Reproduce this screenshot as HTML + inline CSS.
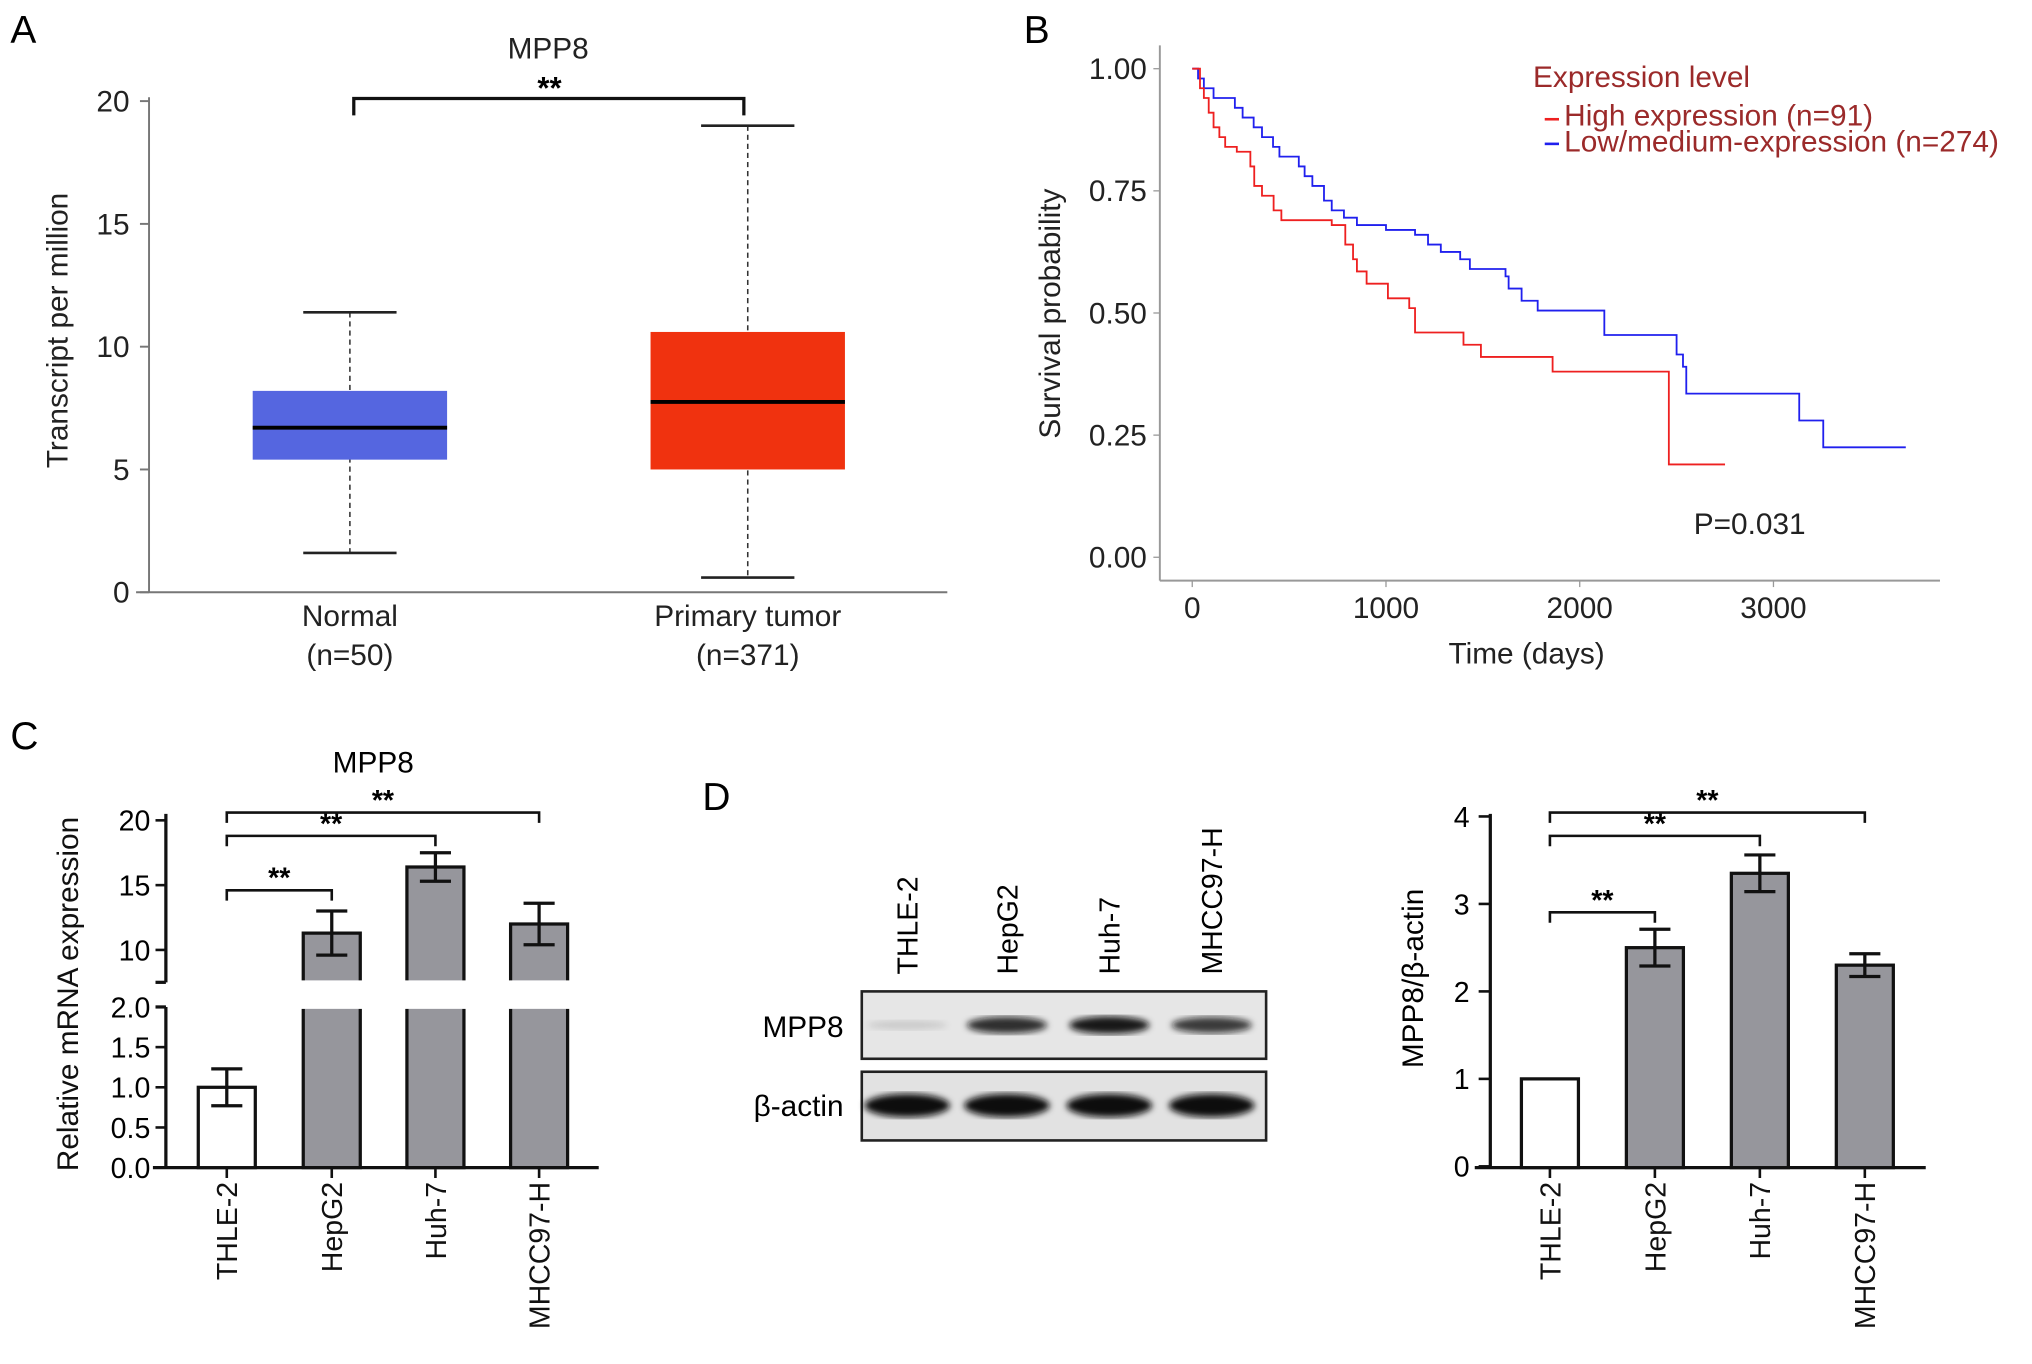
<!DOCTYPE html>
<html><head><meta charset="utf-8">
<style>
html,body{margin:0;padding:0;background:#fff;}
svg{display:block;}
text{font-family:"Liberation Sans",sans-serif;}
.n{font-family:"Liberation Sans Narrow","Liberation Sans",sans-serif;}
</style></head>
<body>
<svg id="fig" width="2032" height="1364" viewBox="0 0 1568 1052.5" xmlns="http://www.w3.org/2000/svg">
<rect width="1568" height="1052.5" fill="#fff"/>
<text x="8" y="33" font-size="30">A</text>
<text x="790" y="33" font-size="30">B</text>
<text x="8" y="578" font-size="30">C</text>
<text x="542" y="625" font-size="30">D</text>
<g id="A"></g>
<g id="B"></g>
<g id="C"></g>
<g id="D"></g>
<g id="E"></g>
</svg>
<script>
// ---- Panel A data
const boxCats = ["Normal","Primary tumor"];
const boxN = ["(n=50)","(n=371)"];
const boxMin = [1.6, 0.6];
const boxQ1 = [5.4, 5.0];
const boxMed = [6.7, 7.75];
const boxQ3 = [8.2, 10.6];
const boxMax = [11.4, 19.0];
const boxColors = ["#5566e0","#f0320f"];
const boxTicks = [0,5,10,15,20];
// ---- Panel B data
const highT = [0,40,60,85,110,140,170,230,300,320,360,420,460,720,790,830,850,900,1010,1120,1150,1400,1490,1860,2460];
const highS = [1,0.96,0.94,0.91,0.88,0.86,0.84,0.83,0.80,0.76,0.74,0.71,0.69,0.68,0.64,0.61,0.585,0.56,0.53,0.51,0.46,0.435,0.41,0.38,0.19];
const highEnd = 2750;
const lowT = [0,30,60,110,220,260,317,360,417,450,550,580,620,680,720,783,850,1000,1150,1217,1283,1383,1433,1617,1633,1700,1783,2127,2500,2533,2550,3133,3257];
const lowS = [1,0.98,0.96,0.94,0.92,0.90,0.88,0.86,0.84,0.82,0.80,0.78,0.76,0.73,0.71,0.695,0.68,0.67,0.66,0.64,0.625,0.61,0.59,0.575,0.55,0.525,0.505,0.455,0.415,0.39,0.335,0.28,0.225];
const lowEnd = 3683;
const survYTicks = [0,0.25,0.5,0.75,1.0];
const survYLabels = ["0.00","0.25","0.50","0.75","1.00"];
const survXTicks = [0,1000,2000,3000];
// ---- Panel C data
const cellCats = ["THLE-2","HepG2","Huh-7","MHCC97-H"];
const mrnaVals = [1.0, 11.3, 16.4, 12.0];
const mrnaErr = [0.23, 1.7, 1.1, 1.6];
const mrnaLowTicks = [0.0,0.5,1.0,1.5,2.0];
const mrnaHighTicks = [10,15,20];
// ---- Panel D data
const protVals = [1.0, 2.5, 3.35, 2.3];
const protErr = [0, 0.21, 0.21, 0.13];
const protTicks = [0,1,2,3,4];
const mppBand = [0.12, 0.85, 0.95, 0.8];
const actinBand = [1,1,1,1];

const NS="http://www.w3.org/2000/svg";
function mk(parent,tag,attrs,txt){const e=document.createElementNS(NS,tag);for(const k in attrs)e.setAttribute(k,attrs[k]);if(txt!==undefined)e.textContent=txt;parent.appendChild(e);return e;}

// ===== Panel A
(function(){
const g=document.getElementById('A');
const y=v=>457-(v/20)*379;
const xs=[270,577], hw=75;
let e=mk(g,'line',{x1:115,y1:y(20)-3,x2:115,y2:457,stroke:'#777','stroke-width':1.5});

e=mk(g,'line',{x1:105,y1:457,x2:731,y2:457,stroke:'#777','stroke-width':1.5});

boxTicks.forEach(t=>{mk(g,'line',{x1:108,y1:y(t),x2:115,y2:y(t),stroke:'#777','stroke-width':1.5});
 e=mk(g,'text',{x:100,y:y(t)+8,'font-size':23,'text-anchor':'end',class:'n',fill:'#222'},String(t));
 });
e=mk(g,'text',{x:0,y:0,'font-size':23,'text-anchor':'middle',transform:'translate(52,255) rotate(-90)',fill:'#222'},'Transcript per million');

boxCats.forEach((c,i)=>{const x=xs[i];
 mk(g,'line',{x1:x,y1:y(boxMax[i]),x2:x,y2:y(boxMin[i]),stroke:'#333','stroke-width':1.2,'stroke-dasharray':'4,3'});
 mk(g,'line',{x1:x-36,y1:y(boxMax[i]),x2:x+36,y2:y(boxMax[i]),stroke:'#222','stroke-width':2});
 mk(g,'line',{x1:x-36,y1:y(boxMin[i]),x2:x+36,y2:y(boxMin[i]),stroke:'#222','stroke-width':2});
 e=mk(g,'rect',{x:x-hw,y:y(boxQ3[i]),width:hw*2,height:y(boxQ1[i])-y(boxQ3[i]),fill:boxColors[i]});
 
 mk(g,'line',{x1:x-hw,y1:y(boxMed[i]),x2:x+hw,y2:y(boxMed[i]),stroke:'#000','stroke-width':3});
 e=mk(g,'text',{x:x,y:483,'font-size':23,'text-anchor':'middle',class:'n',fill:'#222'},c);
 
 mk(g,'text',{x:x,y:513,'font-size':23,'text-anchor':'middle',class:'n',fill:'#222'},boxN[i]);
});
mk(g,'path',{d:'M273,89 V76 H574 V89',fill:'none',stroke:'#111','stroke-width':2.5});
mk(g,'text',{x:424,y:76,'font-size':24,'font-weight':'bold','text-anchor':'middle'},'**');
e=mk(g,'text',{x:423,y:45,'font-size':23,'text-anchor':'middle',class:'n',fill:'#222'},'MPP8');

})();

// ===== Panel B
(function(){
const g=document.getElementById('B');
const x=t=>920+t/1000*149.5, y=s=>430-s*377;
let e=mk(g,'line',{x1:895,y1:35,x2:895,y2:448,stroke:'#999','stroke-width':1.5});

e=mk(g,'line',{x1:895,y1:448,x2:1497,y2:448,stroke:'#999','stroke-width':1.5});

survYTicks.forEach((t,i)=>{mk(g,'line',{x1:890,y1:y(t),x2:895,y2:y(t),stroke:'#999'});
 e=mk(g,'text',{x:885,y:y(t)+8,'font-size':23,'text-anchor':'end',class:'n',fill:'#222'},survYLabels[i]);
 });
survXTicks.forEach(t=>{mk(g,'line',{x1:x(t),y1:448,x2:x(t),y2:453,stroke:'#999'});
 e=mk(g,'text',{x:x(t),y:477,'font-size':23,'text-anchor':'middle',class:'n',fill:'#222'},String(t));
 });
e=mk(g,'text',{x:0,y:0,'font-size':23,'text-anchor':'middle',transform:'translate(818,242) rotate(-90)',fill:'#222'},'Survival probability');

e=mk(g,'text',{x:1178,y:512,'font-size':23,'text-anchor':'middle',class:'n',fill:'#222'},'Time (days)');

function curve(T,S,end,col,name){let d='M'+x(T[0])+','+y(S[0]);
 for(let i=1;i<T.length;i++){d+=' H'+x(T[i])+' V'+y(S[i]);} d+=' H'+x(end);
 const p=mk(g,'path',{d:d,fill:'none',stroke:col,'stroke-width':1.4});
 }
curve(lowT,lowS,lowEnd,'#2020ee','low-expression-curve');
curve(highT,highS,highEnd,'#ee2020','high-expression-curve');
e=mk(g,'text',{x:1183,y:67,'font-size':23,fill:'#9b2a2a',class:'n'},'Expression level');

mk(g,'line',{x1:1192,y1:92,x2:1203,y2:92,stroke:'#ee2020','stroke-width':2});
e=mk(g,'text',{x:1207,y:97,'font-size':23,fill:'#9b2a2a',class:'n'},'High expression (n=91)');

mk(g,'line',{x1:1192,y1:111,x2:1203,y2:111,stroke:'#2020ee','stroke-width':2});
e=mk(g,'text',{x:1207,y:117,'font-size':23,fill:'#9b2a2a',class:'n'},'Low/medium-expression (n=274)');

e=mk(g,'text',{x:1307,y:412,'font-size':23,class:'n',fill:'#222'},'P=0.031');

})();

// helper for bar charts
function catLabels(g,xs,yTop,prefix){cellCats.forEach((c,i)=>{
 const e=mk(g,'text',{x:0,y:0,'font-size':22,'text-anchor':'end',transform:'translate('+(xs[i]+8)+','+yTop+') rotate(-90)',fill:'#111'},c);
 });}
function bracket(g,x1,x2,yb,txt){mk(g,'path',{d:'M'+x1+','+(yb+8)+' V'+yb+' H'+x2+' V'+(yb+8),fill:'none',stroke:'#111','stroke-width':2});
 mk(g,'text',{x:(x1+x2)/2,y:yb-2,'font-size':22,'font-weight':'bold','text-anchor':'middle'},txt);}

// ===== Panel C
(function(){
const g=document.getElementById('C');
const xs=[175,256,336,416], bw=44;
const yl=v=>901-v*62, yh=v=>733-(v-10)*10;
const brk=758, brkL=777;
const yv=v=>v<=2?yl(v):yh(v);
let e=mk(g,'path',{d:'M128,628 V'+brk+' M128,'+brkL+' V901',stroke:'#111','stroke-width':2.5,fill:'none'});

mk(g,'line',{x1:120,y1:brk,x2:128,y2:brk,stroke:'#111','stroke-width':2.5});
mk(g,'line',{x1:120,y1:brkL,x2:128,y2:brkL,stroke:'#111','stroke-width':2.5});
e=mk(g,'line',{x1:118,y1:901,x2:462,y2:901,stroke:'#111','stroke-width':2.5});

mrnaLowTicks.forEach(t=>{mk(g,'line',{x1:120,y1:yl(t),x2:128,y2:yl(t),stroke:'#111','stroke-width':2});
 e=mk(g,'text',{x:116,y:yl(t)+8,'font-size':22,'text-anchor':'end',class:'n'},t.toFixed(1));
 });
mrnaHighTicks.forEach(t=>{mk(g,'line',{x1:120,y1:yh(t),x2:128,y2:yh(t),stroke:'#111','stroke-width':2});
 e=mk(g,'text',{x:116,y:yh(t)+8,'font-size':22,'text-anchor':'end',class:'n'},String(t));
 });
mrnaVals.forEach((v,i)=>{const x=xs[i], fill=i===0?'#fff':'#96969c';
 if(v<=2){e=mk(g,'rect',{x:x-bw/2,y:yl(v),width:bw,height:901-yl(v),fill:fill,stroke:'#111','stroke-width':2.5});}
 else{e=mk(g,'path',{d:'M'+(x-bw/2)+','+brk+' V'+yh(v)+' H'+(x+bw/2)+' V'+brk+' Z M'+(x-bw/2)+','+901+' V'+brkL+' H'+(x+bw/2)+' V901 Z',fill:fill,stroke:'#111','stroke-width':2.5});
  mk(g,'rect',{x:x-bw/2-2,y:brk-1.5,width:bw+4,height:3,fill:'#fff'});
  mk(g,'rect',{x:x-bw/2-2,y:brkL-1.5,width:bw+4,height:3,fill:'#fff'});
  mk(g,'line',{x1:x-bw/2,y1:brkL,x2:x+bw/2,y2:brkL,stroke:'#96969c','stroke-width':0});}
 
 const hi=yv(v+mrnaErr[i]), lo=yv(v-mrnaErr[i]);
 mk(g,'path',{d:'M'+x+','+hi+' V'+lo+' M'+(x-12)+','+hi+' H'+(x+12)+' M'+(x-12)+','+lo+' H'+(x+12),stroke:'#111','stroke-width':2.5,fill:'none'});
 mk(g,'line',{x1:x,y1:901,x2:x,y2:909,stroke:'#111','stroke-width':2});
});
catLabels(g,xs,912,'c');
bracket(g,175,256,687,'**');bracket(g,175,336,645,'**');bracket(g,175,416,627,'**');
e=mk(g,'text',{x:288,y:596,'font-size':23,'text-anchor':'middle',class:'n'},'MPP8');

e=mk(g,'text',{x:0,y:0,'font-size':23,'text-anchor':'middle',transform:'translate(60,767) rotate(-90)',fill:'#111'},'Relative mRNA expression');

})();

// ===== Panel D blot
(function(){
const g=document.getElementById('D');
const lanes=[700,777,856,935];
const defs=mk(g,'defs',{});
const f=mk(defs,'filter',{id:'blur'});mk(f,'feGaussianBlur',{stdDeviation:2.5});
let e=mk(g,'rect',{x:665,y:765,width:312,height:52,fill:'#e6e6e6',stroke:'#222','stroke-width':2});

e=mk(g,'rect',{x:665,y:827,width:312,height:53,fill:'#e2e2e2',stroke:'#222','stroke-width':2});

mppBand.forEach((a,i)=>{e=mk(g,'ellipse',{cx:lanes[i],cy:791,rx:31,ry:3+a*4,fill:'#111','fill-opacity':a,filter:'url(#blur)'});
 });
actinBand.forEach((a,i)=>{e=mk(g,'ellipse',{cx:lanes[i],cy:853,rx:33,ry:9,fill:'#0a0a0a','fill-opacity':a,filter:'url(#blur)'});
 });
e=mk(g,'text',{x:651,y:800,'font-size':23,'text-anchor':'end',class:'n'},'MPP8');

e=mk(g,'text',{x:651,y:861,'font-size':23,'text-anchor':'end',class:'n'},'β-actin');

cellCats.forEach((c,i)=>{e=mk(g,'text',{x:0,y:0,'font-size':22,'text-anchor':'start',transform:'translate('+(lanes[i]+8)+',752) rotate(-90)'},c);
 });
})();

// ===== Panel D bar chart
(function(){
const g=document.getElementById('E');
const xs=[1196,1277,1358,1439], bw=44;
const y=v=>900-v*67.5;
let e=mk(g,'line',{x1:1150,y1:628,x2:1150,y2:901,stroke:'#111','stroke-width':2.5});

e=mk(g,'line',{x1:1138,y1:901,x2:1486,y2:901,stroke:'#111','stroke-width':2.5});

protTicks.forEach(t=>{mk(g,'line',{x1:1141,y1:y(t),x2:1150,y2:y(t),stroke:'#111','stroke-width':2});
 e=mk(g,'text',{x:1134,y:y(t)+8,'font-size':22,'text-anchor':'end',class:'n'},String(t));
 });
protVals.forEach((v,i)=>{const x=xs[i];
 e=mk(g,'rect',{x:x-bw/2,y:y(v),width:bw,height:901-y(v),fill:i===0?'#fff':'#96969c',stroke:'#111','stroke-width':2.5});
 
 if(protErr[i]>0){const hi=y(v+protErr[i]),lo=y(v-protErr[i]);
  mk(g,'path',{d:'M'+x+','+hi+' V'+lo+' M'+(x-12)+','+hi+' H'+(x+12)+' M'+(x-12)+','+lo+' H'+(x+12),stroke:'#111','stroke-width':2.5,fill:'none'});}
 mk(g,'line',{x1:x,y1:901,x2:x,y2:909,stroke:'#111','stroke-width':2});
});
catLabels(g,xs,912,'d');
bracket(g,1196,1277,704,'**');bracket(g,1196,1358,645,'**');bracket(g,1196,1439,627,'**');
e=mk(g,'text',{x:0,y:0,'font-size':23,'text-anchor':'middle',transform:'translate(1098,755) rotate(-90)'},'MPP8/β-actin');

})();
</script>
</body></html>
